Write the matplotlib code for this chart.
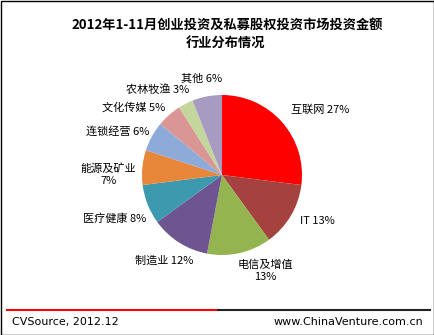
import matplotlib
matplotlib.use("Agg")
import matplotlib.pyplot as plt
from matplotlib.lines import Line2D
from matplotlib.patches import Rectangle
import numpy as np

plt.rcParams['font.family'] = ['Noto Sans CJK SC', 'DejaVu Sans']

title_line1 = "2012年1-11月创业投资及私募股权投资市场投资金额"
title_line2 = "行业分布情况"
categories = ["互联网", "IT", "电信及增值", "制造业", "医疗健康", "能源及矿业",
              "连锁经营", "文化传媒", "农林牧渔", "其他"]
values = [27, 13, 13, 12, 8, 7, 6, 5, 3, 6]
colors = ["#FF0000", "#A5423F", "#94B450", "#6E5490", "#3D9AAE", "#E8873A",
          "#8EAAD8", "#D99694", "#C3D69B", "#A89BC1"]
label_text = ["互联网 27%", "IT 13%", "电信及增值\n13%", "制造业 12%", "医疗健康 8%",
              "能源及矿业\n7%", "连锁经营 6%", "文化传媒 5%", "农林牧渔 3%", "其他 6%"]
# label offsets (pixels) from the wedge's outer edge midpoint
label_offsets = [(38, 12), (27, -5), (26, -18), (-15, -18), (-33, -14),
                 (-34, -7), (-34, 5), (-35, 7), (-28, 14), (-5, 18)]
source = "CVSource, 2012.12"
site = "www.ChinaVenture.com.cn"

W, H = 435, 335
fig = plt.figure(figsize=(W / 100, H / 100), dpi=100)
fig.patch.set_facecolor("white")

cx, cy, r = 222, 175, 80
ax = fig.add_axes([(cx - r) / W, (H - cy - r) / H, 2 * r / W, 2 * r / H])
wedges, _ = ax.pie(values, colors=colors, startangle=90, counterclock=False,
                   wedgeprops=dict(linewidth=0))
for w, txt, (dx, dy) in zip(wedges, label_text, label_offsets):
    ang = np.deg2rad((w.theta1 + w.theta2) / 2)
    ax.annotate(txt, xy=(np.cos(ang), np.sin(ang)), xytext=(dx, dy),
                textcoords="offset pixels", ha="center", va="center",
                multialignment="center", fontsize=8, color="black",
                linespacing=1.25, annotation_clip=False)
ax.set_xlim(-1, 1)
ax.set_ylim(-1, 1)
ax.set_aspect("equal")
ax.axis("off")

fig.text(227 / W, 1 - 25 / H, title_line1, ha="center", va="center", fontsize=9.5,
         fontweight="bold")
fig.text(226 / W, 1 - 43 / H, title_line2, ha="center", va="center", fontsize=9.5,
         fontweight="bold")

# border
fig.add_artist(Rectangle((0.5 / W, 0.5 / H), 1 - 1.5 / W, 1 - 1.5 / H, transform=fig.transFigure,
                         fill=False, edgecolor="black", linewidth=1))
# footer line
yl = 1 - 310 / H
fig.add_artist(Line2D([7 / W, 218 / W], [yl, yl], color="#FF0000", linewidth=1.5))
fig.add_artist(Line2D([218 / W, 430 / W], [yl, yl], color="#222222", linewidth=1.5))
fig.text(12 / W, 1 - 322 / H, source, ha="left", va="center", fontsize=8, family="DejaVu Sans")
fig.text(423 / W, 1 - 322 / H, site, ha="right", va="center", fontsize=8, family="DejaVu Sans")

fig.savefig("out.png", dpi=100)
